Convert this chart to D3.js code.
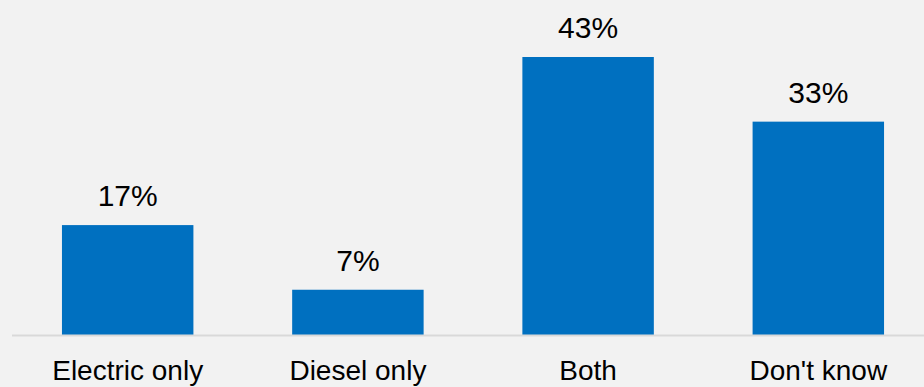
<!DOCTYPE html>
<html>
<head>
<meta charset="utf-8">
<script src="https://cdn.jsdelivr.net/npm/d3@7"></script>
<style>
  html, body { margin: 0; padding: 0; background: #f2f2f2; }
  svg { display: block; }
  text { font-family: "Liberation Sans", Arial, sans-serif; fill: #000; }
</style>
</head>
<body>
<svg id="chart" width="924" height="387"></svg>
<script>
// Survey answers and their shares (percent)
const categories = ["Electric only", "Diesel only", "Both", "Don't know"];
const values = [17, 7, 43, 33];

const W = 924, H = 387;
const baseY = 335, topY = 57;

const svg = d3.select("#chart");
svg.append("rect").attr("width", W).attr("height", H).attr("fill", "#f2f2f2");

const x = d3.scaleBand()
  .domain(categories)
  .range([12, 934])
  .paddingInner(0.429)
  .paddingOuter(0.217);

const y = d3.scaleLinear()
  .domain([0, 43])
  .range([baseY, topY]);

// Bars
svg.selectAll("rect.bar")
  .data(categories)
  .join("rect")
  .attr("class", "bar")
  .attr("x", d => x(d))
  .attr("width", x.bandwidth())
  .attr("y", (d, i) => y(values[i]))
  .attr("height", (d, i) => y(0) - y(values[i]))
  .attr("fill", "#0070c0");

// Category axis along the baseline
const axis = svg.append("g")
  .attr("transform", `translate(0,${baseY})`)
  .call(d3.axisBottom(x).tickSize(0).tickPadding(45));
axis.select(".domain").attr("stroke", "#d9d9d9").attr("stroke-width", 2).attr("d", `M12,0.5H${W}`);
axis.selectAll("text")
  .attr("font-size", 28)
  .attr("font-family", "\"Liberation Sans\", Arial, sans-serif")
  .attr("fill", "#000")
  .attr("dy", 0);

// Value labels above bars
svg.selectAll("text.val")
  .data(categories)
  .join("text")
  .attr("class", "val")
  .attr("x", d => x(d) + x.bandwidth() / 2)
  .attr("y", (d, i) => y(values[i]) - 19)
  .attr("text-anchor", "middle")
  .attr("font-size", 30)
  .text((d, i) => values[i] + "%");
</script>
</body>
</html>
